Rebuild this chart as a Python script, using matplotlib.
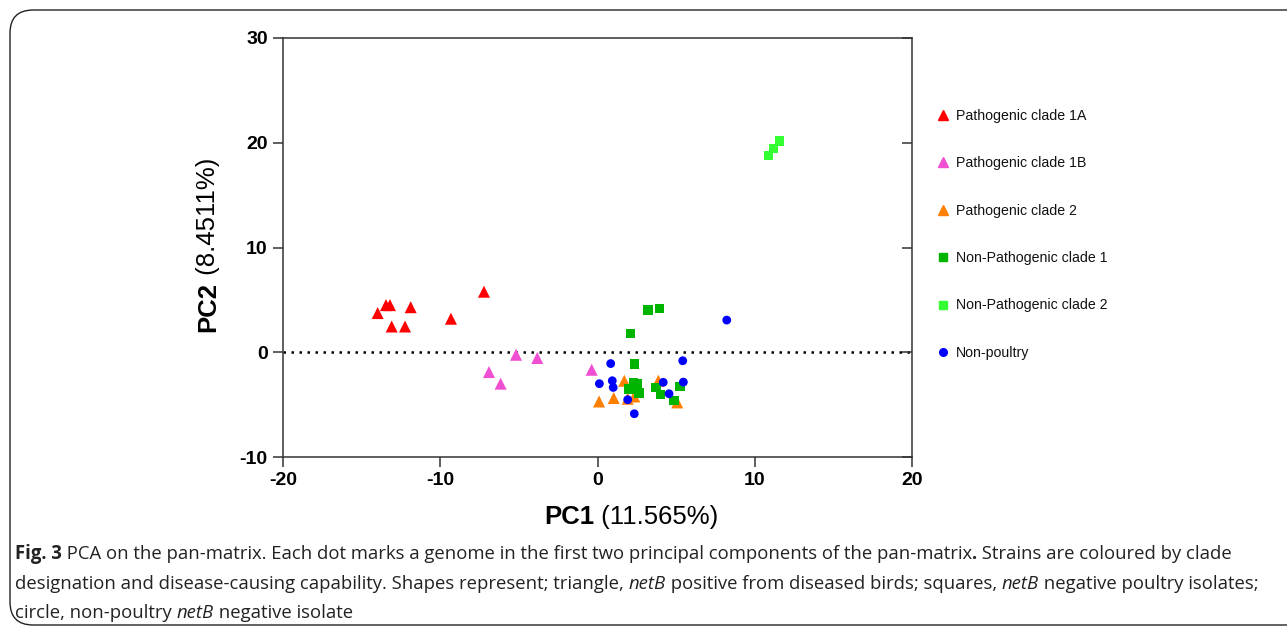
import matplotlib
matplotlib.use("Agg")
import matplotlib.pyplot as plt
from matplotlib.patches import FancyBboxPatch

plt.rcParams['font.family'] = ['Liberation Sans', 'DejaVu Sans']

# ---- data ----
clade1A_x = [-13.98, -13.45, -13.2, -13.09, -12.24, -11.88, -9.32, -7.22]
clade1A_y = [3.74, 4.5, 4.5, 2.46, 2.46, 4.3, 3.2, 5.78]

clade1B_x = [-6.9, -6.16, -5.18, -3.83, -0.37]
clade1B_y = [-1.89, -3.0, -0.24, -0.55, -1.67]

clade2_x = [0.1, 1.03, 1.7, 1.92, 2.34, 3.87, 5.07]
clade2_y = [-4.7, -4.37, -2.72, -4.44, -4.22, -2.72, -4.79]

np1_x = [3.21, 3.95, 2.11, 2.34, 2.28, 2.53, 2.0, 2.64, 3.72, 4.02, 4.86, 5.25]
np1_y = [4.03, 4.15, 1.8, -1.13, -2.94, -3.0, -3.52, -3.9, -3.36, -4.06, -4.63, -3.26]

np2_x = [10.89, 11.18, 11.56]
np2_y = [18.76, 19.43, 20.16]

nonpoultry_x = [0.84, 0.12, 0.94, 1.0, 1.92, 2.34, 4.18, 4.55, 5.46, 5.42, 8.22]
nonpoultry_y = [-1.08, -3.0, -2.72, -3.36, -4.53, -5.87, -2.87, -3.96, -2.85, -0.81, 3.07]

series_labels = ["Pathogenic clade 1A", "Pathogenic clade 1B", "Pathogenic clade 2",
                 "Non-Pathogenic clade 1", "Non-Pathogenic clade 2", "Non-poultry"]
x_ticks = [-20, -10, 0, 10, 20]
y_ticks = [-10, 0, 10, 20, 30]

# ---- figure ----
fig = plt.figure(figsize=(12.87, 6.28), dpi=100)
W, H = 1287, 628

# rounded frame
frame = FancyBboxPatch((10 / W, 3 / H), 1.2, (H - 13) / H,
                       boxstyle="round,pad=0,rounding_size=0.018",
                       transform=fig.transFigure, fill=False,
                       edgecolor='#222222', linewidth=1.0, mutation_aspect=W / H)
fig.patches.append(frame)

ax = fig.add_axes([283 / W, 1 - 457 / H, 629 / W, 419 / H])

series = [
    (clade1A_x, clade1A_y, '^', '#FF0000', 75),
    (clade1B_x, clade1B_y, '^', '#F04FD2', 75),
    (clade2_x, clade2_y, '^', '#FF7F00', 75),
    (np1_x, np1_y, 's', '#00B400', 45),
    (np2_x, np2_y, 's', '#33FF33', 45),
    (nonpoultry_x, nonpoultry_y, 'o', '#0000FF', 40),
]

ax.axhline(0, color='black', linewidth=1.8, linestyle=(0, (1, 2.2)), zorder=1)

for (xs, ys, m, c, s), lab in zip(series, series_labels):
    ax.scatter(xs, ys, marker=m, s=s, color=c, edgecolors='none', label=lab, zorder=3)

ax.set_xlim(-20, 20)
ax.set_ylim(-10, 30)
ax.set_xticks(x_ticks)
ax.set_yticks(y_ticks)
ax.set_xticklabels([str(t) for t in x_ticks], fontsize=14, fontweight='bold')
ax.set_yticklabels([str(t) for t in y_ticks], fontsize=14, fontweight='bold')
ax.tick_params(axis='both', direction='out', length=7, width=1.1, color='#333333', pad=4)
ax.tick_params(axis='y', right=True, which='major')
for sp in ax.spines.values():
    sp.set_linewidth(1.1)
    sp.set_color('#333333')

# right ticks inward
for t in ax.yaxis.get_major_ticks():
    t.tick2line.set_marker(matplotlib.lines.TICKLEFT)
    t.tick2line.set_markersize(7)

# axis titles
fig.text(594 / W, 1 - 517 / H, "PC1", fontsize=18.5, fontweight='bold',
         ha='right', va='center')
fig.text(594 / W, 1 - 517 / H, " (11.565%)", fontsize=18.5,
         ha='left', va='center')
fig.text(208 / W, 1 - 282 / H, "PC2", fontsize=18.5, fontweight='bold',
         rotation=90, rotation_mode='anchor', ha='right', va='center')
fig.text(208 / W, 1 - 282 / H, " (8.4511%)", fontsize=18.5,
         rotation=90, rotation_mode='anchor', ha='left', va='center')

# legend
leg_handles = []
for (xs, ys, m, c, s), lab in zip(series, series_labels):
    leg_handles.append(plt.Line2D([], [], linestyle='none', marker=m, color=c,
                                  markersize=7 if m == '^' else 5.5, label=lab))
leg = fig.legend(handles=leg_handles, loc='upper left',
                 bbox_to_anchor=(922 / W, 1 - 96 / H), frameon=False,
                 fontsize=10.2, labelspacing=2.36, handletextpad=0.3,
                 handlelength=1.2, labelcolor='#111111')

# caption with mixed styles
caption_lines = [
    [("Fig. 3", 'bold', 'normal'),
     (" PCA on the pan-matrix. Each dot marks a genome in the first two principal components of the pan-matrix", 'normal', 'normal'),
     (".", 'bold', 'normal'),
     (" Strains are coloured by clade", 'normal', 'normal')],
    [("designation and disease-causing capability. Shapes represent; triangle, ", 'normal', 'normal'),
     ("netB", 'normal', 'italic'),
     (" positive from diseased birds; squares, ", 'normal', 'normal'),
     ("netB", 'normal', 'italic'),
     (" negative poultry isolates;", 'normal', 'normal')],
    [("circle, non-poultry ", 'normal', 'normal'),
     ("netB", 'normal', 'italic'),
     (" negative isolate", 'normal', 'normal')],
]
line_y = [554, 584, 613]
cap_fs = 13.35
cap_font = ['Open Sans', 'DejaVu Sans']
fig.canvas.draw()
renderer = fig.canvas.get_renderer()
for pieces, py in zip(caption_lines, line_y):
    x = 15
    for txt, wt, st in pieces:
        t = fig.text(x / W, 1 - py / H, txt, fontsize=cap_fs, fontweight=wt,
                     fontstyle=st, ha='left', va='center', color='#222222',
                     family=cap_font)
        bb = t.get_window_extent(renderer)
        x += bb.width

fig.savefig("out.png", dpi=100)
